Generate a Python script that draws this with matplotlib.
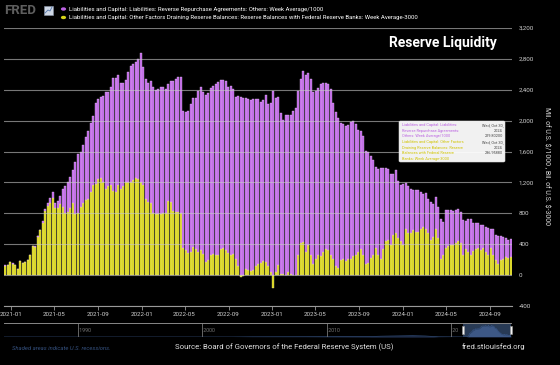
import numpy as np
import pandas as pd
import matplotlib
matplotlib.use("Agg")
import matplotlib.pyplot as plt
import matplotlib.dates as mdates
from matplotlib.patches import Rectangle, FancyBboxPatch, Circle
from matplotlib.lines import Line2D

W, H = 560, 365
PURPLE = "#bb62e2"
YELLOW = "#d8d418"
FONT = "Roboto"

# weekly dates, Wednesdays
weeks = pd.date_range("2020-12-16", periods=203, freq="7D")

# Reserve balances with Federal Reserve Banks, week average, bil. $ - 3000
reserves_less_3000 = [
    120, 125, 165, 150, 130, 75, 180, 160, 170, 195,
    255, 375, 370, 500, 580, 675, 830, 900, 935, 1000,
    870, 870, 925, 880, 805, 815, 870, 935, 795, 810,
    880, 940, 975, 985, 1075, 1170, 1180, 1240, 1260, 1200,
    1120, 1150, 1170, 1090, 1075, 1170, 1120, 1150, 1200, 1210,
    1205, 1230, 1255, 1240, 1205, 1170, 990, 945, 930, 800,
    795, 790, 785, 800, 810, 955, 950, 830, 815, 820,
    810, 345, 320, 280, 300, 365, 340, 300, 320, 270,
    165, 190, 265, 275, 265, 260, 335, 350, 330, 280,
    260, 270, 215, 120, -20, -10, 75, 65, 55, 65,
    120, 138, 163, 180, 165, 120, 43, -170, 43, 130,
    20, 10, 0, 35, 20, 0, 5, 258, 410, 430,
    300, 395, 260, 150, 215, 258, 250, 300, 335, 330,
    258, 215, 120, 95, 193, 215, 180, 215, 215, 250,
    266, 300, 335, 258, 138, 160, 225, 266, 345, 258,
    215, 335, 440, 450, 395, 525, 550, 475, 440, 390,
    600, 540, 545, 580, 560, 560, 595, 625, 600, 550,
    450, 495, 595, 475, 215, 265, 345, 380, 385, 395,
    410, 440, 420, 258, 335, 300, 260, 310, 335, 350,
    330, 350, 300, 258, 350, 260, 193, 138, 190, 205,
    237, 225, 236.9588,
]

# Reverse repurchase agreements: others, week average, mil. $ / 1000
rrp_div_1000 = [
    5, 5, 3, 2, 1, 1, 2, 3, 5, 5,
    4, 3, 3, 5, 10, 20, 25, 40, 60, 70,
    60, 90, 105, 230, 345, 390, 400, 420, 665, 760,
    710, 750, 810, 885, 895, 895, 1050, 1040, 1050, 1120,
    1245, 1215, 1270, 1460, 1475, 1420, 1365, 1335, 1325, 1420,
    1505, 1500, 1505, 1555, 1665, 1520, 1545, 1540, 1585, 1640,
    1605, 1625, 1645, 1640, 1605, 1520, 1565, 1685, 1720, 1740,
    1750, 1785, 1795, 1850, 1915, 1925, 1960, 2085, 2120, 2095,
    2165, 2170, 2155, 2175, 2205, 2240, 2190, 2175, 2190, 2160,
    2190, 2145, 2095, 2195, 2300, 2290, 2215, 2210, 2215, 2215,
    2160, 2140, 2080, 2090, 2165, 2095, 2185, 2380, 2245, 2170,
    2080, 2000, 2070, 2035, 2050, 2130, 2165, 2125, 2125, 2215,
    2290, 2225, 2285, 2215, 2170, 2170, 2220, 2185, 2155, 2145,
    2155, 2020, 1995, 1935, 1775, 1745, 1755, 1730, 1770, 1745,
    1685, 1585, 1525, 1545, 1470, 1430, 1315, 1220, 1055, 1110,
    1170, 1050, 945, 930, 915, 785, 805, 750, 730, 785,
    595, 620, 565, 525, 540, 540, 485, 430, 465, 440,
    495, 430, 415, 405, 515, 425, 495, 460, 455, 435,
    430, 420, 395, 450, 365, 430, 470, 370, 340, 320,
    325, 305, 325, 355, 245, 335, 320, 365, 320, 290,
    240, 225, 229.802,
]

# navigator (longer history of the first series, rough)
nav_dates = ["1984-01-01", "1995-01-01", "2002-06-01", "2004-01-01", "2006-01-01",
             "2008-06-01", "2010-01-01", "2013-06-01", "2014-06-01", "2015-12-01",
             "2016-12-01", "2017-12-01", "2019-01-01", "2020-06-01"]
nav_values = [0, 0, 0, 30, 35, 40, 60, 90, 160, 230, 260, 200, 40, 5]

x_ticks = pd.date_range("2021-01-01", "2024-09-01", freq="4MS")
y_ticks = list(range(-400, 3201, 400))


def fx(x):
    return x / W


def fy(y):
    return 1 - y / H


plt.rcParams["font.family"] = [FONT, "DejaVu Sans"]
fig = plt.figure(figsize=(W / 100, H / 100), dpi=100, facecolor="black")

ax = fig.add_axes([fx(4), fy(306), fx(508), 278 / H])
ax.set_facecolor("black")

yel = np.array(reserves_less_3000)
pur = np.array(rrp_div_1000)
ax.bar(weeks, yel, width=5.6, color=YELLOW, edgecolor="#eeea90", linewidth=0.25, zorder=1)
ax.bar(weeks, pur, bottom=np.clip(yel, 0, None), width=5.6, color=PURPLE,
       edgecolor="#ecc4fb", linewidth=0.25, zorder=1)

ax.set_xlim(pd.Timestamp("2020-12-12"), pd.Timestamp("2024-11-02"))
ax.set_ylim(-400, 3200)
ax.set_yticks(y_ticks)
ax.set_yticklabels([f"{v:,}" for v in y_ticks])
ax.yaxis.tick_right()
ax.tick_params(axis="y", length=0, pad=5, labelsize=4.5, labelcolor="#cfcfcf")
ax.set_xticks(x_ticks)
ax.xaxis.set_major_formatter(mdates.DateFormatter("%Y-%m"))
ax.tick_params(axis="x", length=3, width=0.6, color="#999999", pad=1.5,
               labelsize=4.5, labelcolor="#cfcfcf")
ax.set_axisbelow(False)
ax.grid(axis="y", color="#c8c8c8", alpha=0.6, linewidth=0.8)
for s in ["top", "left", "right"]:
    ax.spines[s].set_visible(False)
ax.spines["bottom"].set_color("#999999")
ax.spines["bottom"].set_linewidth(0.8)

# title
fig.text(fx(497), fy(43), "Reserve Liquidity", color="white", fontsize=10,
         fontweight="bold", ha="right", va="center")

# right axis label
fig.text(fx(546), fy(166), "Mil. of U.S. \\$/1000 , Bil. of U.S. \\$-3000",
         color="#dddddd", fontsize=5, rotation=270, ha="center", va="center")

# header: FRED logo and legend
fig.text(fx(4), fy(10), "FRED", color="#5e5e5e", fontsize=9.5, fontweight="bold",
         va="center", ha="left")
fig.add_artist(Rectangle((fx(44), fy(15)), fx(9), 9 / H, facecolor="#cfd8e6",
                         edgecolor="#8a95a8", linewidth=0.4))
fig.add_artist(Line2D([fx(45), fx(48), fx(50), fx(52)], [fy(13), fy(10), fy(11), fy(7)],
                      color="#5577aa", linewidth=0.6))
fig.add_artist(Circle((fx(63.5), fy(9)), 2.6 / W, facecolor=PURPLE, edgecolor="none",
                      transform=fig.transFigure))
fig.add_artist(Circle((fx(63.5), fy(17.5)), 2.6 / W, facecolor=YELLOW, edgecolor="none",
                      transform=fig.transFigure))
fig.text(fx(69), fy(9), "Liabilities and Capital: Liabilities: Reverse Repurchase Agreements: "
         "Others: Week Average/1000", color="white", fontsize=4.3, va="center")
fig.text(fx(69), fy(17.5), "Liabilities and Capital: Other Factors Draining Reserve Balances: "
         "Reserve Balances with Federal Reserve Banks: Week Average-3000",
         color="white", fontsize=4.3, va="center")

# tooltip
fig.add_artist(FancyBboxPatch((fx(399), fy(162)), fx(106), 41 / H,
                              boxstyle="round,pad=0,rounding_size=0.003",
                              facecolor="white", edgecolor="#dddddd", linewidth=0.4,
                              alpha=0.95, zorder=10))
tt_purple = ["Liabilities and Capital: Liabilities:", "Reverse Repurchase Agreements:",
             "Others: Week Average/1000"]
tt_yellow = ["Liabilities and Capital: Other Factors", "Draining Reserve Balances: Reserve",
             "Balances with Federal Reserve", "Banks: Week Average-3000"]
for k, line in enumerate(tt_purple):
    fig.text(fx(402), fy(125 + 5.6 * k), line, color=PURPLE, fontsize=2.8, va="center", zorder=11)
for k, line in enumerate(tt_yellow):
    fig.text(fx(402), fy(142 + 5.6 * k), line, color="#d0c400", fontsize=2.8, va="center", zorder=11)
for base, val in [(125, "229.80200"), (142, "236.95880")]:
    for k, line in enumerate(["Wed, Oct 30,", "2024", val]):
        fig.text(fx(503), fy(base + 5.6 * k), line, color="#444444", fontsize=2.8,
                 ha="right", va="center", zorder=11)

# navigator
nav = fig.add_axes([fx(4), fy(337), fx(507), 14 / H])
nav.set_facecolor("black")
nd = pd.to_datetime(nav_dates).append(weeks)
nv = np.concatenate([nav_values, pur])
nav.fill_between(nd, nv, color="#26375a", linewidth=0)
nav.plot(nd, nv, color="#34507e", linewidth=0.5)
nav.set_xlim(pd.Timestamp("1984-01-20"), pd.Timestamp("2024-10-30"))
nav.set_ylim(0, 2800)
nav.axvspan(weeks[0], weeks[-1], color="#5a82bd", alpha=0.45, linewidth=0)
for yr in [1990, 2000, 2010, 2020]:
    t = pd.Timestamp(f"{yr}-01-01")
    nav.axvline(t, color="#777777", linewidth=0.6)
    nav.text(t, 0.45, f" {yr}" if yr < 2020 else " 20", transform=nav.get_xaxis_transform(),
             color="#777777", fontsize=3.8, va="center")
nav.set_xticks([])
nav.set_yticks([])
for s in ["left", "right", "bottom"]:
    nav.spines[s].set_visible(False)
nav.spines["top"].set_color("#888888")
nav.spines["top"].set_linewidth(0.7)
for t in [weeks[0], weeks[-1]]:
    nav.add_patch(Rectangle((mdates.date2num(t) - 30, 0.2), 60, 0.6,
                            transform=nav.get_xaxis_transform(), facecolor="#f2f2f2",
                            edgecolor="#999999", linewidth=0.4, zorder=5, clip_on=False))

# footer
fig.text(fx(12), fy(349), "Shaded areas indicate U.S. recessions.", color="#34507e",
         fontsize=4.2, style="italic", va="center")
fig.text(fx(175), fy(347), "Source: Board of Governors of the Federal Reserve System (US)",
         color="#e0e0e0", fontsize=5.6, va="center")
fig.text(fx(462), fy(347), "fred.stlouisfed.org", color="#e0e0e0", fontsize=5.6, va="center")

fig.savefig("out.png", dpi=100, facecolor="black")
